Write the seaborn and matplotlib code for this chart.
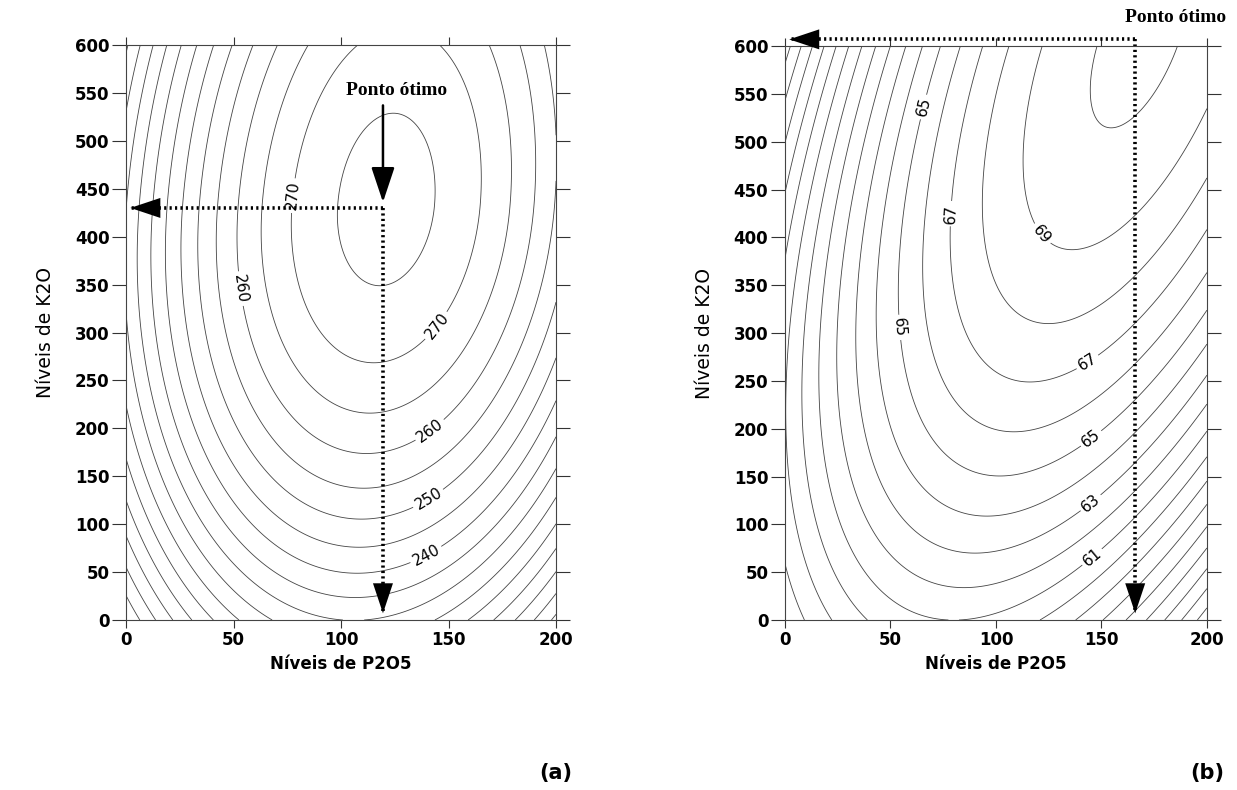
# Superficies de resposta: produtividade x niveis de P2O5 e K2O
import numpy as np
import matplotlib
matplotlib.use("Agg")
import matplotlib.pyplot as plt
import seaborn as sns

# -----------------------------
# dados
# -----------------------------
p2o5_ticks = [0, 50, 100, 150, 200]
k2o_ticks = [0, 50, 100, 150, 200, 250, 300, 350, 400, 450, 500, 550, 600]

# (a) ponto otimo, valor maximo, curvaturas (P2O5, K2O abaixo, K2O acima),
#     inclinacao da crista
opt_a = (121.0, 434.0)
peak_a = 276.8
curv_a = (3.55e-3, 2.48e-4, 2.0e-4)
tilt_a = 0.035
levels_a = list(range(150, 280, 5))
labels_a = [240, 250, 260, 270]
label_pos_a = [(140, 66), (141, 125), (142, 196), (145, 306), (54, 346), (77, 443)]
star_a = (119.5, 430)

# (b)
opt_b = (168.2, 608.5)
peak_b = 70.22
curv_b = (6.0e-4, 2.489e-5, 2.489e-5)
tilt_b = 0.145
levels_b = list(range(45, 71))
labels_b = [61, 63, 65, 67, 69]
label_pos_b = [(144, 70), (144, 125), (144, 193), (143, 271), (55, 306),
               (68, 535), (77, 425), (122, 404)]
star_b = (166, 607)


def surface(x, y, opt, peak, curv, tilt):
    dy = y - opt[1]
    cy = np.where(dy < 0, curv[1], curv[2])
    xr = opt[0] + tilt * dy
    return peak - cy * dy ** 2 - curv[0] * (x - xr) ** 2


sns.set_style("ticks")
plt.rcParams["font.family"] = ["DejaVu Sans"]
plt.rcParams["text.color"] = "black"
plt.rcParams["axes.labelcolor"] = "black"
plt.rcParams["xtick.labelcolor"] = "black"
plt.rcParams["ytick.labelcolor"] = "black"

fig = plt.figure(figsize=(12.37, 7.9), dpi=100)
ax_a = fig.add_axes([0.1019, 0.2152, 0.3476, 0.7278])
ax_b = fig.add_axes([0.6346, 0.2152, 0.3411, 0.7265])

gx, gy = np.meshgrid(np.linspace(0, 200, 201), np.linspace(0, 600, 301))

panels = [
    (ax_a, opt_a, peak_a, curv_a, tilt_a, levels_a, labels_a, label_pos_a),
    (ax_b, opt_b, peak_b, curv_b, tilt_b, levels_b, labels_b, label_pos_b),
]

line_kw = dict(colors="#444444", linewidths=0.6)

for ax, opt, peak, curv, tilt, lev, lab, lpos in panels:
    z = surface(gx, gy, opt, peak, curv, tilt)
    plain = [l for l in lev if l not in lab]
    ax.contour(gx, gy, z, levels=plain, **line_kw)
    cs = ax.contour(gx, gy, z, levels=lab, **line_kw)
    ax.set_xlim(0, 200)
    ax.set_ylim(0, 600)
    ax.clabel(cs, manual=lpos, inline=True, fmt="%d",
              fontsize=11, colors="black", inline_spacing=3)
    ax.set_xticks(p2o5_ticks)
    ax.set_yticks(k2o_ticks)
    ax.tick_params(direction="out", length=10, width=0.8, top=True, right=True,
                   labeltop=False, labelright=False, labelsize=12, pad=2,
                   color="#333333")
    ax.tick_params(axis="x", length=6)
    for t in ax.get_xticklabels() + ax.get_yticklabels():
        t.set_fontweight("bold")
    for s in ax.spines.values():
        s.set_visible(True)
        s.set_linewidth(0.8)
        s.set_color("#444444")
    ax.set_xlabel("Níveis de P2O5", fontsize=12, fontweight="bold", labelpad=4)
    ax.set_ylabel("Níveis de K2O", fontsize=13.5, labelpad=14)

dot = dict(color="black", lw=2.6, linestyle=(0, (0.6, 0.9)), clip_on=False,
           solid_capstyle="butt")
head = dict(arrowstyle="-|>,head_length=1.2,head_width=0.4", mutation_scale=18,
            color="black", lw=0.0, shrinkA=0, shrinkB=0)


def dotted_arrow(ax, start, end):
    ax.plot([start[0], end[0]], [start[1], end[1]], **dot)
    dx = end[0] - start[0]
    dy = end[1] - start[1]
    n = np.hypot(dx, dy)
    back = (end[0] - dx / n * 12, end[1] - dy / n * 12)
    ax.annotate("", xy=end, xytext=back, arrowprops=head, annotation_clip=False)


# (a)
dotted_arrow(ax_a, star_a, (2, star_a[1]))
dotted_arrow(ax_a, star_a, (star_a[0], 7))
ax_a.annotate("", xy=(star_a[0], 436), xytext=(star_a[0], 537),
              arrowprops=dict(arrowstyle="-|>,head_length=1.2,head_width=0.4",
                              mutation_scale=18, color="black", lw=1.8,
                              shrinkA=0, shrinkB=0))
ax_a.text(126, 553, "Ponto ótimo", ha="center", va="center", fontsize=14,
          fontweight="bold", family=["Liberation Serif", "DejaVu Serif"])

# (b)
dotted_arrow(ax_b, star_b, (2, star_b[1]))
dotted_arrow(ax_b, star_b, (star_b[0], 7))
ax_b.text(185, 630, "Ponto ótimo", ha="center", va="center", fontsize=14,
          fontweight="bold", family=["Liberation Serif", "DejaVu Serif"],
          clip_on=False)

fig.text(556 / 1237, 1 - 773 / 790, "(a)", ha="center", va="center",
         fontsize=15, fontweight="bold")
fig.text(1207 / 1237, 1 - 773 / 790, "(b)", ha="center", va="center",
         fontsize=15, fontweight="bold")

fig.savefig("out.png", dpi=100)
